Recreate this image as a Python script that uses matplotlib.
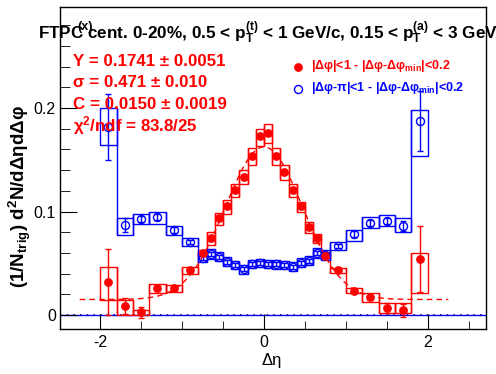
import numpy as np
import matplotlib
matplotlib.use('Agg')
import matplotlib.pyplot as plt
from matplotlib.patches import Rectangle
from matplotlib.ticker import MultipleLocator

plt.rcParams['font.family'] = ['Liberation Sans', 'DejaVu Sans']
plt.rcParams['mathtext.fontset'] = 'custom'
plt.rcParams['mathtext.rm'] = 'Liberation Sans'
plt.rcParams['mathtext.bf'] = 'Liberation Sans:bold'
plt.rcParams['mathtext.it'] = 'Liberation Sans:italic'
plt.rcParams['axes.unicode_minus'] = False

# bin centres and widths in delta-eta
eta = [-1.9, -1.7, -1.5, -1.3, -1.1, -0.9,
       -0.75, -0.65, -0.55, -0.45, -0.35, -0.25, -0.15, -0.05,
       0.05, 0.15, 0.25, 0.35, 0.45, 0.55, 0.65, 0.75,
       0.9, 1.1, 1.3, 1.5, 1.7, 1.9]
bin_w = [0.2, 0.2, 0.2, 0.2, 0.2, 0.2,
         0.1, 0.1, 0.1, 0.1, 0.1, 0.1, 0.1, 0.1,
         0.1, 0.1, 0.1, 0.1, 0.1, 0.1, 0.1, 0.1,
         0.2, 0.2, 0.2, 0.2, 0.2, 0.2]

# near side |dphi|<1 (red)
red_y = [0.0316, 0.0087, 0.0025, 0.0258, 0.0258, 0.0435,
         0.0600, 0.0747, 0.0940, 0.1050, 0.1210, 0.1330, 0.1536, 0.1730,
         0.1760, 0.1540, 0.1380, 0.1212, 0.1050, 0.0853, 0.0744, 0.0575,
         0.0433, 0.0233, 0.0171, 0.0066, 0.0045, 0.0540]
red_err = [0.032, 0.0075, 0.005, 0.0025, 0.0025, 0.002,
           0.002, 0.002, 0.002, 0.002, 0.002, 0.002, 0.002, 0.002,
           0.002, 0.002, 0.002, 0.002, 0.002, 0.002, 0.002, 0.002,
           0.002, 0.0025, 0.0025, 0.005, 0.006, 0.032]
red_lo = [0.0145, 0.0, 0.0005, 0.021, 0.0225, 0.040,
          0.057, 0.0676, 0.087, 0.098, 0.1137, 0.1266, 0.145, 0.163,
          0.166, 0.145, 0.1304, 0.1143, 0.0998, 0.0795, 0.070, 0.0548,
          0.0403, 0.021, 0.0129, 0.0016, 0.0016, 0.0216]
red_hi = [0.046, 0.0145, 0.0048, 0.030, 0.029, 0.046,
          0.063, 0.0799, 0.0988, 0.111, 0.1266, 0.140, 0.161, 0.180,
          0.1845, 0.161, 0.145, 0.1266, 0.1095, 0.090, 0.078, 0.0612,
          0.0457, 0.0258, 0.021, 0.0119, 0.0113, 0.0596]

# away side |dphi-pi|<1 (blue)
blue_y = [0.182, 0.087, 0.0924, 0.095, 0.082, 0.0702,
          0.0548, 0.059, 0.0563, 0.0515, 0.0483, 0.0444, 0.0493, 0.050,
          0.0493, 0.0490, 0.0483, 0.0467, 0.0505, 0.0525, 0.060, 0.058,
          0.067, 0.0783, 0.0892, 0.0911, 0.0863, 0.1874]
blue_err = [0.032, 0.007, 0.003, 0.003, 0.003, 0.002,
            0.002, 0.002, 0.002, 0.002, 0.002, 0.002, 0.002, 0.002,
            0.002, 0.002, 0.002, 0.002, 0.002, 0.002, 0.002, 0.002,
            0.002, 0.003, 0.003, 0.003, 0.005, 0.029]
blue_lo = [0.164, 0.0773, 0.088, 0.088, 0.0773, 0.0667,
           0.0510, 0.054, 0.0520, 0.0470, 0.0440, 0.0400, 0.0450, 0.0460,
           0.0450, 0.0447, 0.0440, 0.0425, 0.0462, 0.0482, 0.0555, 0.0535,
           0.0628, 0.0718, 0.0838, 0.0863, 0.080, 0.1536]
blue_hi = [0.1997, 0.0934, 0.0973, 0.0998, 0.0863, 0.074,
           0.0590, 0.0640, 0.0605, 0.0560, 0.0525, 0.0488, 0.0535, 0.0545,
           0.0535, 0.0533, 0.0525, 0.0510, 0.0548, 0.0568, 0.0645, 0.0625,
           0.0708, 0.082, 0.095, 0.0966, 0.094, 0.198]

# gaussian + constant fit parameters
fit_Y = 0.1741
fit_sigma = 0.471
fit_C = 0.0150
fit_range = (-2.25, 2.25)

W, H = 496, 374
fig = plt.figure(figsize=(W / 100, H / 100), dpi=100)
ax = fig.add_axes([60 / W, 1 - 329 / H, 426 / W, 322 / H])


def px(x, y):
    return x / W, 1 - y / H


def sys_boxes(lo, hi, color):
    # boxes, with adjacent boxes joined along their shared edge
    for x, w, l, h in zip(eta, bin_w, lo, hi):
        ax.add_patch(Rectangle((x - w / 2, l), w, h - l, fill=False,
                               edgecolor=color, lw=1.0, zorder=2))
    for i in range(len(eta) - 1):
        edge = eta[i] + bin_w[i] / 2
        if abs(edge - (eta[i + 1] - bin_w[i + 1] / 2)) < 1e-6:
            ax.vlines(edge, min(lo[i], lo[i + 1]), max(hi[i], hi[i + 1]),
                      color=color, lw=1.0, zorder=2)


ax.axhline(0, color='blue', lw=1.0, zorder=1)
ax.axhline(0, color='navy', lw=1.2, ls=(0, (1, 3)), zorder=1)

sys_boxes(red_lo, red_hi, 'red')
sys_boxes(blue_lo, blue_hi, 'blue')

xf = np.linspace(fit_range[0], fit_range[1], 300)
yf = fit_C + fit_Y / (np.sqrt(2 * np.pi) * fit_sigma) * np.exp(-xf ** 2 / (2 * fit_sigma ** 2))
ax.plot(xf, yf, color='red', lw=1.0, ls=(0, (4, 3)), zorder=2)

ax.errorbar(eta, red_y, yerr=red_err, fmt='o', color='red', ms=5.3, mec='red',
            mfc='red', elinewidth=1.0, capsize=2.5, capthick=1.0, zorder=4)
ax.errorbar(eta, blue_y, yerr=blue_err, fmt='o', color='blue', ms=5.8, mec='blue',
            mfc='none', mew=1.0, elinewidth=1.0, capsize=2.5, capthick=1.0, zorder=3)

ax.set_xlim(-2.49, 2.71)
ax.set_ylim(-0.0135, 0.2976)
ax.set_xticks([-2, 0, 2])
ax.set_xticklabels(['-2', '0', '2'])
ax.xaxis.set_minor_locator(MultipleLocator(0.5))
ax.set_yticks([0, 0.1, 0.2])
ax.set_yticklabels(['0', '0.1', '0.2'])
ax.yaxis.set_minor_locator(MultipleLocator(0.02))
ax.tick_params(which='both', direction='in', top=False, right=False, labelsize=11.5)
ax.tick_params(axis='x', which='major', length=11, pad=4)
ax.tick_params(axis='x', which='minor', length=6)
ax.tick_params(axis='y', which='major', length=12, pad=3)
ax.tick_params(axis='y', which='minor', length=7)
for s in ax.spines.values():
    s.set_linewidth(1.0)

# texts
fig.text(*px(38, 38.5), r'FTPC cent. 0-20%, 0.5 < p$_{\mathbf{T}}^{\mathbf{(t)}}$ < 1 GeV/c, '
         r'0.15 < p$_{\mathbf{T}}^{\mathbf{(a)}}$ < 3 GeV/c',
         fontsize=12.3, fontweight='bold', va='baseline', ha='left')
fig.text(*px(85, 27), '(x)', fontsize=9, fontweight='bold', ha='center', va='center')

stats = ['Y = 0.1741 ± 0.0051', 'σ = 0.471 ± 0.010', 'C = 0.0150 ± 0.0019',
         r'χ$^{\mathbf{2}}$/ndf = 83.8/25']
for s, yb in zip(stats, [66, 86.7, 109.3, 131.7]):
    fig.text(*px(73, yb), s, color='red', fontsize=12.2, fontweight='bold', va='baseline')

fig.lines.append(plt.Line2D([298 / W], [1 - 67 / H], marker='o', ms=5.3, color='red',
                            transform=fig.transFigure, figure=fig))
fig.lines.append(plt.Line2D([298 / W], [1 - 89 / H], marker='o', ms=5.8, mfc='none',
                            mec='blue', transform=fig.transFigure, figure=fig))
fig.text(*px(311, 69.5), r'|Δφ|<1 - |Δφ-Δφ$_{\mathbf{min}}$|<0.2', color='red',
         fontsize=9, fontweight='bold', va='baseline')
fig.text(*px(311, 91), r'|Δφ-π|<1 - |Δφ-Δφ$_{\mathbf{min}}$|<0.2', color='blue',
         fontsize=9, fontweight='bold', va='baseline')

fig.text(*px(20, 197), r'(1/N$_{\mathbf{trig}}$) d$^{\mathbf{2}}$N/dΔηdΔφ', rotation=90,
         fontsize=13.5, fontweight='bold', ha='center', va='center')
fig.text(*px(272, 360), 'Δη', fontsize=12, ha='center', va='center')

fig.savefig('out.png', dpi=100)
